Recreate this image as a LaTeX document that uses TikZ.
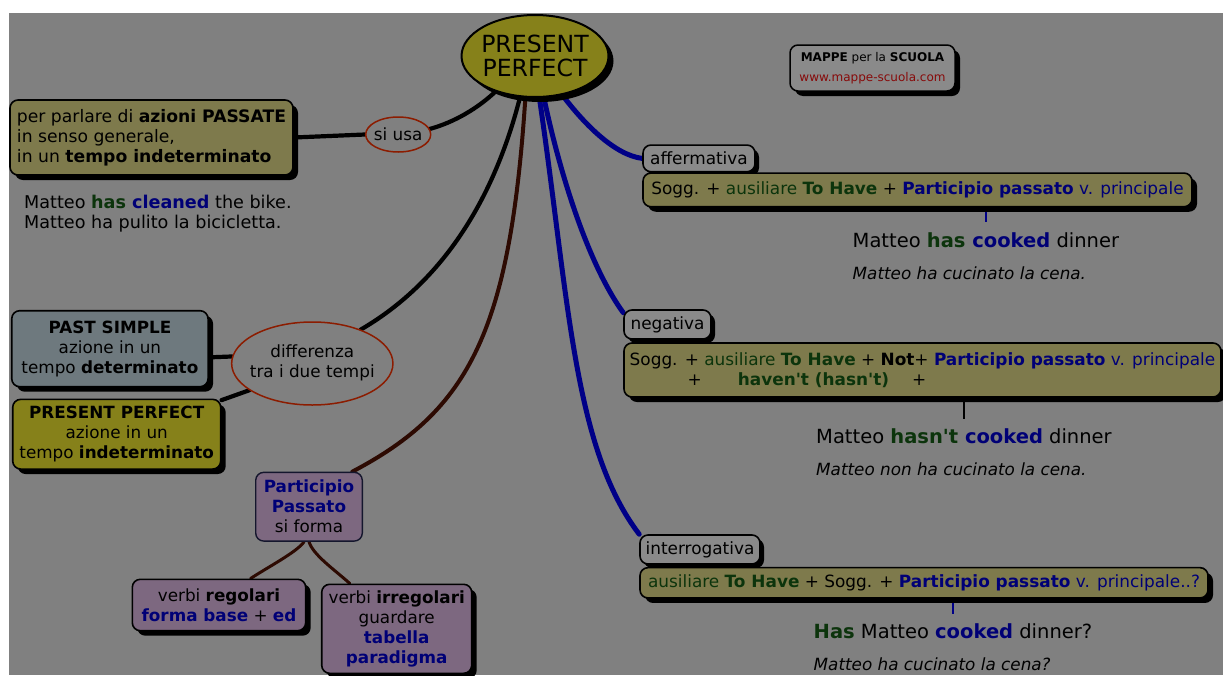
\documentclass[tikz,border=0pt]{standalone}
\usepackage{fontspec}
\setmainfont{DejaVu Sans}
\setsansfont{DejaVu Sans}
\usetikzlibrary{shapes.geometric,shadows}
\definecolor{bgc}{RGB}{128,128,128}
\definecolor{oliv}{RGB}{126,122,76}
\definecolor{olivb}{RGB}{134,129,26}
\definecolor{psc}{RGB}{110,121,126}
\definecolor{purp}{RGB}{125,104,128}
\definecolor{lblc}{RGB}{138,138,138}
\definecolor{redl}{RGB}{140,28,0}
\definecolor{bluel}{RGB}{0,0,135}
\definecolor{brownl}{RGB}{45,10,2}
\definecolor{grn}{RGB}{12,52,12}
\definecolor{nav}{RGB}{0,0,118}
\definecolor{urlc}{RGB}{135,10,10}
\definecolor{partb}{RGB}{20,22,45}
\newcommand{\gtxt}[1]{\textcolor{grn}{#1}}
\newcommand{\btxt}[1]{\textcolor{nav}{#1}}
\pgfdeclarelayer{back}\pgfdeclarelayer{lines}
\pgfsetlayers{back,lines,main}
\tikzset{
  every node/.style={font=\fontsize{16.8}{20}\selectfont},
  shfive/.style={general shadow={fill=black,shadow xshift=5pt,shadow yshift=-5pt}},
  shfour/.style={general shadow={fill=black,shadow xshift=4pt,shadow yshift=-4pt}},
  box/.style={rectangle,rounded corners=8pt,draw=black,line width=1.6pt,inner sep=0pt,align=center},
  lbl/.style={box,fill=lblc,shfour,font=\fontsize{16.9}{20}\selectfont},
  frm/.style={box,fill=oliv,shfive,font=\fontsize{16.9}{20}\selectfont},
  oval/.style={ellipse,draw=redl,line width=1.5pt,fill=bgc,inner sep=0pt},
  exs/.style={anchor=north west,inner xsep=0pt,inner ysep=10pt,align=left,font=\fontsize{19.5}{32}\selectfont},
  conk/.style={draw=black,line width=4.2pt,line cap=round},
  conb/.style={draw=bluel,line width=5pt,line cap=round},
  conr/.style={draw=brownl,line width=4pt,line cap=round},
  conrt/.style={draw=brownl,line width=3pt,line cap=round},
  tick/.style={line width=1.8pt}
}
\begin{document}
\begin{tikzpicture}[x=1pt,y=-1pt]
\useasboundingbox (0,0) rectangle (1223,675);
\begin{pgfonlayer}{back}
\fill[white] (0,0) rectangle (1223,675);
\fill[bgc] (9,12.7) rectangle (1223,675);
\end{pgfonlayer}

% central node
\node[ellipse,draw=black,line width=2pt,fill=olivb,minimum width=147pt,minimum height=82pt,inner sep=0pt,shfive,font=\fontsize{23.6}{21.7}\selectfont] (pp) at (535,56)
  {\makebox[0pt]{\raisebox{-9pt}[0pt][0pt]{\begin{tabular}{@{}c@{}}PRESENT\\PERFECT\end{tabular}}}};

% logo box
\node[box,fill=lblc,shfive,line width=1.5pt,minimum width=165pt,minimum height=46pt,font=\fontsize{12}{19.6}\selectfont] (mappe) at (872.5,68)
  {\textbf{MAPPE} per la \textbf{SCUOLA}\\\textcolor{urlc}{www.mappe-scuola.com}};

% left part
\node[box,fill=oliv,shfive,align=left,minimum width=283pt,minimum height=75pt,font=\fontsize{17.2}{20}\selectfont] (pb) at (151.5,137.5)
  {per parlare di \textbf{azioni PASSATE}\\in senso generale,\\in un \textbf{tempo indeterminato}};
\node[oval,minimum width=65pt,minimum height=35pt] (siusa) at (398.2,134.5) {\makebox[0pt]{si usa}};
\node[anchor=north west,inner sep=0pt,align=left,font=\fontsize{17.6}{20}\selectfont] (exa) at (24,194.8)
  {Matteo \textbf{\gtxt{has} \btxt{cleaned}} the bike.\\Matteo ha pulito la bicicletta.};

\node[box,fill=psc,shfive,minimum width=196.3pt,minimum height=76pt] (ps) at (109.9,348.7)
  {\textbf{PAST SIMPLE}\\azione in un\\tempo \textbf{determinato}};
\node[oval,minimum width=161.3pt,minimum height=83pt] (diff) at (312.3,363.5)
  {\makebox[0pt]{\raisebox{-1.5pt}{\begin{tabular}{@{}c@{}}differenza\\tra i due tempi\end{tabular}}}};
\node[box,fill=olivb,shfive,minimum width=208pt,minimum height=69.7pt] (ppb) at (116.7,434.2)
  {\textbf{PRESENT PERFECT}\\azione in un\\tempo \textbf{indeterminato}};

\node[box,fill=purp,draw=partb,line width=1.4pt,minimum width=106.6pt,minimum height=68.7pt] (part) at (309,506.7)
  {\textbf{\btxt{Participio}}\\\textbf{\btxt{Passato}}\\si forma};
\node[box,fill=purp,shfive,minimum width=173.4pt,minimum height=51.4pt] (vr) at (219,605)
  {verbi \textbf{regolari}\\\textbf{\btxt{forma base}} + \textbf{\btxt{ed}}};
\node[box,fill=purp,shfive,minimum width=150pt,minimum height=89pt] (vi) at (396.7,628.8)
  {verbi \textbf{irregolari}\\guardare\\\textbf{\btxt{tabella}}\\\textbf{\btxt{paradigma}}};

% right part
\node[lbl,minimum width=112pt,minimum height=26.7pt] (affl) at (699,158.4) {affermativa};
\node[frm,minimum width=549pt,minimum height=33.7pt] (afff) at (917.5,189.9)
  {Sogg. + \gtxt{ausiliare \textbf{To Have}} + \btxt{\textbf{Participio passato} v. principale}};
\node[exs] (affex) at (852.5,222)
  {Matteo \textbf{\gtxt{has} \btxt{cooked}} dinner\\{\fontsize{16.8}{32}\selectfont\itshape Matteo ha cucinato la cena.}};

\node[lbl,minimum width=87pt,minimum height=29pt] (negl) at (667.5,324.5) {negativa};
\node[frm,align=left,minimum width=597pt,minimum height=54pt] (negf) at (922.5,370)
  {Sogg. + \gtxt{ausiliare \textbf{To Have}} + \textbf{Not}+ \btxt{\textbf{Participio passato} v. principale}\\\hspace*{58pt}+\hspace*{36pt}\gtxt{\textbf{haven\textquotesingle t (hasn\textquotesingle t)}}\hspace*{23pt}+};
\node[exs] (negex) at (816,418.5)
  {Matteo \textbf{\gtxt{hasn\textquotesingle t} \btxt{cooked}} dinner\\{\fontsize{16.8}{32}\selectfont\itshape Matteo non ha cucinato la cena.}};

\node[lbl,minimum width=120pt,minimum height=29pt] (intl) at (700,549.5) {interrogativa};
\node[frm,minimum width=568pt,minimum height=30.3pt] (intf) at (924,582.8)
  {\gtxt{ausiliare \textbf{To Have}} + Sogg. + \btxt{\textbf{Participio passato} v. principale..?}};
\node[exs] (intex) at (813.5,613.5)
  {\textbf{\gtxt{Has}} Matteo \textbf{\btxt{cooked}} dinner?\\{\fontsize{16.8}{32}\selectfont\itshape Matteo ha cucinato la cena?}};

% connectors
\begin{pgfonlayer}{lines}
\draw[conk] (pp.222) .. controls (478,108) and (455,122) .. (siusa.10);
\draw[conk] (pb.east) -- (siusa.west);
\draw[conk] (pp.250) .. controls (499,180) and (454.6,275) .. (diff.35);
\draw[conk] (diff.175) -- (ps.355);
\draw[conk] (diff.203) -- (ppb.18);
\draw[conr] (pp.257) .. controls (510,330) and (470,410) .. (part.39);
\draw[conrt] (part.262) .. controls (297,552) and (268,567) .. (vr.40);
\draw[conrt] (part.270) .. controls (313,555) and (335,570) .. (vi.136);
\draw[conb] (pp.276) .. controls (569,300) and (573.3,447.7) .. (intl.north west);
\draw[conb] (pp.282) .. controls (560.2,175) and (588.4,264.5) .. (negl.165);
\draw[conb] (pp.305) .. controls (585,125) and (615,155) .. (affl.west);
\draw[tick,bluel] (afff.south -| affex.north) -- (affex.north);
\draw[tick,black] (negf.south -| negex.north) -- (negex.north);
\draw[tick,bluel] (intf.south -| intex.north) -- (intex.north);
\end{pgfonlayer}
\end{tikzpicture}
\end{document}
